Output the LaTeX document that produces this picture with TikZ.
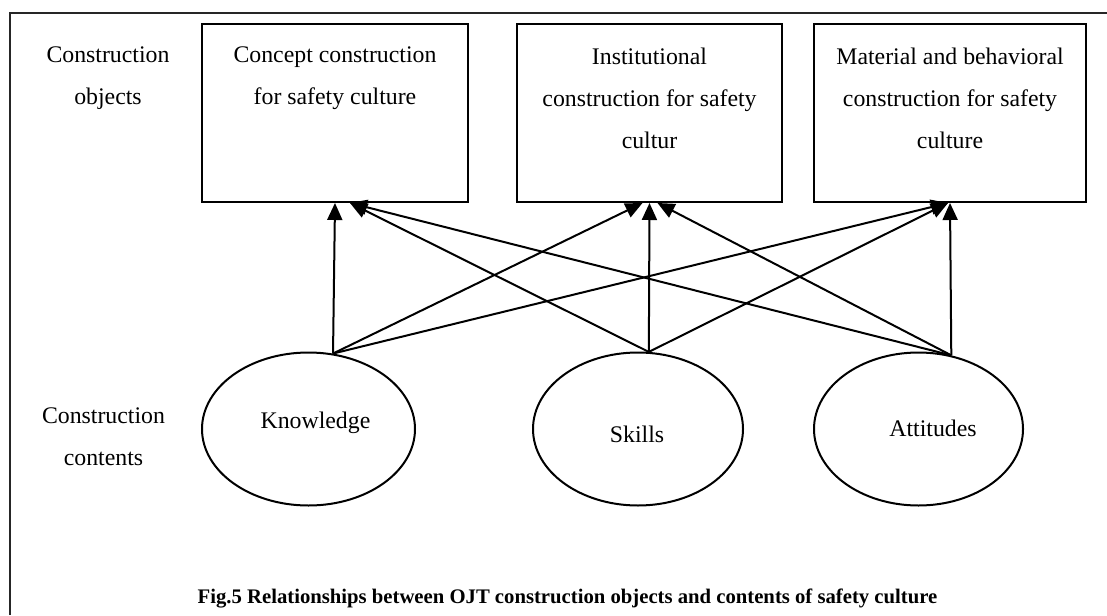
\documentclass[tikz,border=0pt]{standalone}
\usepackage{fontspec}
\setmainfont{Liberation Serif}
\usetikzlibrary{arrows.meta,calc,shapes.geometric}
\begin{document}
\begin{tikzpicture}[x=1pt,y=-1pt,
  objbox/.style={draw,line width=2pt,rectangle,minimum height=178pt,inner sep=0pt},
  content/.style={draw,line width=2pt,ellipse,minimum height=153pt,inner sep=0pt},
  txt/.style={align=center,font=\fontsize{23.8pt}{42pt}\selectfont,inner sep=0pt},
  captext/.style={font=\fontsize{20.7pt}{24pt}\selectfont\bfseries,inner sep=0pt},
  link/.style={line width=2pt,-{Triangle[length=17pt,width=15pt]}},
  frameline/.style={line width=2pt,draw=black!85}
]
\useasboundingbox (0,0) rectangle (1107,615);
\draw[frameline] (10,615) -- (10,13) -- (1107,13);

% construction objects
\node[objbox,minimum width=266pt] (b1) at (335,113) {};
\node[objbox,minimum width=265pt] (b2) at (649.5,113) {};
\node[objbox,minimum width=272pt] (b3) at (950,113) {};
\node[txt] (t1) at (335,78) {Concept construction\\for safety culture};
\node[txt] (t2) at (649.5,98) {Institutional\\construction for safety\\cultur};
\node[txt] (t3) at (950,98) {Material and behavioral\\construction for safety\\culture};

% row labels
\node[txt] (lo) at (108,78) {Construction\\objects};
\node[txt] (lc) at (103.5,437) {Construction\\contents};

% construction contents
\node[content,minimum width=213pt] (kn) at (308.5,429) {};
\node[content,minimum width=210pt] (sk) at (638,429) {};
\node[content,minimum width=209pt] (at) at (918.5,429) {};
\node[txt] (knt) at (315.5,423) {Knowledge};
\node[txt] (skt) at (637,434) {Skills};
\node[txt] (att) at (933,428) {Attitudes};

% connectors
\draw[link] (kn.72) -- (b1.south);
\draw[link] (kn.72) -- ($(b2.south)+(-7,0)$);
\draw[link] (kn.72) -- ($(b3.south)+(-2,0)$);
\draw[link] (sk.82) -- ($(b1.south)+(15,0)$);
\draw[link] (sk.82) -- (b2.south);
\draw[link] (sk.82) -- ($(b3.south)+(-2,0)$);
\draw[link] (at.66) -- ($(b1.south)+(15,0)$);
\draw[link] (at.66) -- ($(b2.south)+(8,0)$);
\draw[link] (at.66) -- (b3.south);

% caption
\node[captext] (caption) at (567.5,598) {Fig.5 Relationships between OJT construction objects and contents of safety culture};
\end{tikzpicture}
\end{document}
